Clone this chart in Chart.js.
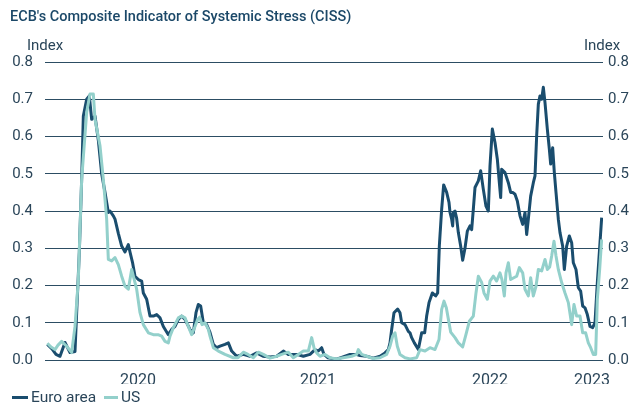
<!DOCTYPE html>
<html><head><meta charset="utf-8">
<script src="https://cdn.jsdelivr.net/npm/chart.js@4.4.1/dist/chart.umd.min.js"></script>
<style>
html,body{margin:0;padding:0;background:#fff;}
#wrap{position:relative;width:640px;height:405px;overflow:hidden;font-family:Roboto,sans-serif;}
canvas{position:absolute;left:0;top:0;}
.t{position:absolute;white-space:nowrap;color:#2a4559;line-height:1;}
.sw{display:inline-block;height:3px;vertical-align:middle;margin-right:3px;}
</style></head><body>
<div id="wrap">
<canvas id="c" width="640" height="405"></canvas>
<div class="t" style="left:10px;top:10px;font-size:14.5px;font-weight:500;color:#1b4868;">ECB's Composite Indicator of Systemic Stress (CISS)</div>
<div class="t" style="left:27px;top:38px;font-size:15px;">Index</div>
<div class="t" style="left:584px;top:38px;font-size:15px;">Index</div>
<div class="t" style="left:12px;top:390px;font-size:15.5px;"><span class="sw" style="width:16px;background:#1a4d6e;"></span>Euro area <span class="sw" style="width:14px;background:#93d0cb;margin-left:4px;"></span>US</div>
</div>
<script>
// x positions: weeks since 1 Jan 2020
const tickWeeks = [27.3, 81.3, 132.9, 163.5];
const tickLabels = ["2020", "2021", "2022", "2023"];

const euroWeeks = [0.1,1.5,2.7,3.9,5.4,6.9,8.4,8.9,9.7,10.4,10.9,11.9,12.7,13.4,14.4,15.4,16.4,17.4,18.4,18.9,19.9,20.4,21.4,22.4,23.4,24.4,24.9,25.7,26.4,27.4,28.4,28.9,29.9,30.9,31.9,32.9,33.9,34.9,36.4,37.4,38.4,39.4,40.4,41.4,42.9,43.9,44.7,45.4,46.1,46.9,47.9,48.9,49.9,50.9,51.9,53.4,54.4,55.4,56.9,58.9,60.9,62.9,64.8,66.9,68.9,70.9,72.4,74.9,76.9,78.9,80.4,81.4,82.4,83.1,84.3,86.9,88.8,90.9,92.7,93.9,95.9,97.9,99.9,101.4,102.4,102.9,103.4,104.1,105.2,105.9,106.4,107.4,108.4,108.9,109.4,110.2,111.4,112.4,113.3,113.9,114.6,115.6,116.6,117.2,117.7,118.4,119.0,119.9,120.6,120.9,121.4,121.7,121.9,122.4,122.9,123.4,124.1,124.7,125.4,126.1,126.9,127.4,127.9,128.4,129.4,130.1,130.9,131.7,132.4,132.9,133.6,134.4,135.1,135.7,136.1,136.4,137.4,138.4,139.1,139.7,140.4,141.1,141.9,142.7,143.4,143.9,144.4,145.1,145.9,146.4,146.9,147.4,147.9,148.4,148.9,149.4,150.1,150.7,151.1,151.7,152.2,152.7,153.4,153.9,154.7,155.2,155.9,156.7,157.4,157.9,158.7,159.4,160.1,160.7,161.4,162.1,162.9,163.7,164.4,165.1,165.9,166.4];
const euroValues = [0.042,0.03,0.015,0.01,0.047,0.02,0.023,0.127,0.29,0.485,0.655,0.70,0.709,0.646,0.655,0.59,0.50,0.45,0.396,0.40,0.387,0.378,0.34,0.306,0.29,0.31,0.29,0.26,0.225,0.216,0.212,0.18,0.163,0.118,0.118,0.122,0.113,0.09,0.068,0.082,0.09,0.109,0.118,0.109,0.082,0.073,0.127,0.149,0.145,0.10,0.095,0.074,0.042,0.033,0.037,0.042,0.046,0.024,0.01,0.015,0.01,0.019,0.01,0.008,0.01,0.024,0.015,0.015,0.01,0.015,0.028,0.024,0.033,0.015,0.006,0.002,0.008,0.015,0.015,0.012,0.01,0.005,0.01,0.019,0.028,0.046,0.082,0.127,0.137,0.127,0.10,0.095,0.077,0.073,0.06,0.046,0.028,0.073,0.073,0.118,0.154,0.18,0.172,0.18,0.306,0.405,0.47,0.45,0.423,0.396,0.378,0.36,0.396,0.40,0.38,0.342,0.306,0.268,0.30,0.346,0.36,0.35,0.405,0.463,0.481,0.508,0.458,0.413,0.40,0.521,0.62,0.584,0.539,0.476,0.436,0.512,0.503,0.476,0.45,0.45,0.445,0.427,0.387,0.364,0.396,0.337,0.378,0.44,0.476,0.494,0.602,0.687,0.709,0.70,0.732,0.691,0.62,0.566,0.526,0.57,0.503,0.45,0.378,0.342,0.306,0.243,0.306,0.333,0.315,0.261,0.243,0.194,0.185,0.145,0.14,0.122,0.09,0.087,0.10,0.208,0.315,0.382];

const usWeeks = [0.1,1.2,2.4,3.3,4.4,5.9,7.4,8.4,9.4,10.4,11.9,12.9,13.9,14.4,15.9,16.9,17.9,18.4,19.4,20.4,21.4,22.4,23.4,24.4,25.4,25.9,26.9,27.9,28.9,30.4,31.9,33.3,34.4,35.4,36.4,36.9,37.9,39.4,40.4,41.4,42.4,43.4,44.4,45.2,45.8,46.5,47.4,48.4,48.9,49.9,51.4,53.4,55.9,57.3,58.9,60.3,61.9,63.4,64.9,66.9,68.9,70.4,72.4,73.9,75.4,76.9,78.4,79.4,80.1,80.9,81.9,83.4,84.9,86.9,88.9,91.4,92.9,93.4,94.4,95.9,97.9,99.9,101.9,102.9,103.7,104.4,105.1,105.9,107.4,108.9,110.9,111.9,113.4,114.9,116.4,117.6,118.4,119.1,119.8,120.5,121.1,122.4,123.4,124.7,125.7,126.7,127.9,128.7,129.4,130.4,131.1,132.1,132.9,133.9,134.9,135.9,136.5,137.2,137.7,138.4,139.1,139.9,140.9,141.7,142.7,143.4,144.4,145.1,145.9,146.7,147.4,148.4,149.4,150.1,150.8,151.4,152.1,152.7,153.4,154.4,155.4,156.4,157.4,158.1,158.9,159.9,160.7,161.6,162.4,163.1,163.9,164.6,165.1,165.8,166.4];
const usValues = [0.045,0.035,0.028,0.04,0.05,0.037,0.02,0.09,0.216,0.485,0.665,0.714,0.714,0.646,0.575,0.485,0.378,0.27,0.266,0.275,0.256,0.225,0.198,0.19,0.243,0.225,0.19,0.127,0.095,0.073,0.068,0.068,0.064,0.05,0.046,0.064,0.087,0.113,0.118,0.113,0.09,0.068,0.09,0.109,0.115,0.095,0.10,0.082,0.064,0.033,0.024,0.015,0.006,0.006,0.021,0.015,0.006,0.021,0.015,0.005,0.01,0.015,0.021,0.006,0.015,0.024,0.024,0.06,0.033,0.019,0.01,0.015,0.006,0.003,0.006,0.01,0.015,0.028,0.015,0.01,0.004,0.006,0.015,0.037,0.064,0.073,0.037,0.015,0.006,0.003,0.006,0.028,0.024,0.033,0.028,0.055,0.136,0.158,0.14,0.105,0.075,0.06,0.046,0.035,0.069,0.104,0.118,0.18,0.225,0.208,0.18,0.163,0.212,0.225,0.212,0.234,0.215,0.172,0.234,0.261,0.216,0.22,0.225,0.248,0.234,0.19,0.172,0.221,0.172,0.198,0.243,0.239,0.27,0.243,0.25,0.279,0.319,0.279,0.243,0.208,0.18,0.154,0.095,0.149,0.118,0.118,0.073,0.073,0.046,0.033,0.015,0.015,0.163,0.243,0.324];

const yTickFont = {family: 'Roboto', size: 15};
const textColor = '#2a4559';

new Chart(document.getElementById('c'), {
  type: 'line',
  data: {
    datasets: [
      {label: 'Euro area', data: euroWeeks.map((w, i) => ({x: w, y: euroValues[i]})),
       borderColor: '#1a4d6e', borderWidth: 3, pointRadius: 0, tension: 0, borderJoinStyle: 'round', order: 2},
      {label: 'US', data: usWeeks.map((w, i) => ({x: w, y: usValues[i]})),
       borderColor: '#93d0cb', borderWidth: 3, pointRadius: 0, tension: 0, borderJoinStyle: 'round', order: 1}
    ]
  },
  options: {
    responsive: false, animation: false, events: [],
    layout: {padding: {top: 62, bottom: 21, left: 0, right: 0}},
    plugins: {legend: {display: false}, tooltip: {enabled: false}},
    scales: {
      x: {
        type: 'linear', min: -0.6, max: 166.8,
        grid: {display: false}, border: {display: false},
        afterBuildTicks: s => { s.ticks = tickWeeks.map(v => ({value: v})); },
        ticks: {autoSkip: false, maxRotation: 0, padding: 3, font: {family: 'Roboto', size: 16}, color: textColor,
                callback: (v, i) => tickLabels[i]},
        afterFit: s => { s.height = 24; }
      },
      y: {
        position: 'left', min: 0, max: 0.8,
        grid: {color: '#2c4d63', lineWidth: 1, drawTicks: false}, border: {display: false},
        ticks: {stepSize: 0.1, padding: 12, font: yTickFont, color: textColor, callback: v => v.toFixed(1)},
        afterFit: s => { s.width = 45; }
      },
      y2: {
        position: 'right', min: 0, max: 0.8,
        grid: {display: false, drawTicks: false}, border: {display: false},
        ticks: {stepSize: 0.1, padding: 5, font: yTickFont, color: textColor, callback: v => v.toFixed(1)},
        afterFit: s => { s.width = 37; }
      }
    }
  }
});
</script>
</body></html>
